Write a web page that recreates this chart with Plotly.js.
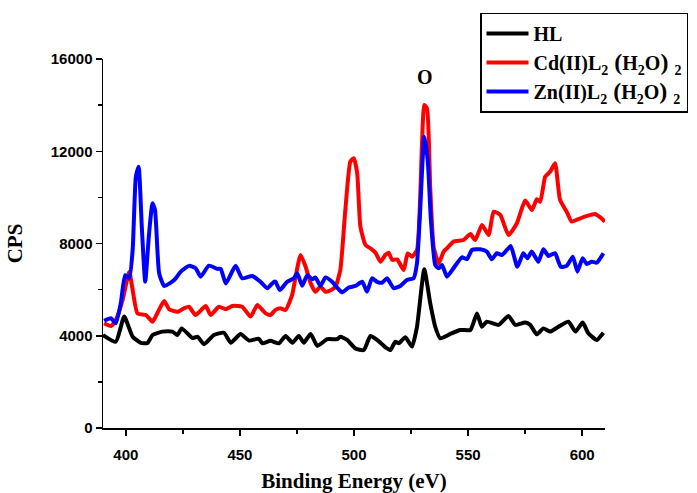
<!DOCTYPE html>
<html>
<head>
<meta charset="utf-8">
<script src="https://cdn.plot.ly/plotly-3.0.1.min.js"></script>
<style>html,body{margin:0;padding:0;background:#fff;}#chart{width:697px;height:493px;}</style>
</head>
<body>
<div id="chart"></div>
<script>
// HL
const hlX = [390,395.6,399.3,403,406.6,409.5,411.7,416,420.4,422.6,424.5,429.2,431.4,434.3,438.6,443,446,450.3,454,458.3,459.8,463.4,467.1,470,473,475.8,478,481,483.9,488.3,492.6,494,497,500.6,504.3,507.2,510.1,513.8,516,518.1,519.6,522.5,525.4,527.6,530.8,533.4,535.6,537.8,542.2,546.6,551,553.9,556,558.2,563.3,567.7,570.7,575,577.2,580.1,583,586,589.6,594,597,600.2,602.7,606.4,609.3];
const hlY = [4030,3740,4830,3960,3690,3690,4030,4180,4180,4030,4320,3900,3960,3630,4030,4130,3700,4080,3790,3870,3670,3780,3670,3990,3700,3990,3700,4080,3560,3850,3850,3960,3820,3450,3380,3990,3820,3500,3380,3740,3670,3930,3530,4390,6880,5410,4390,3890,4080,4250,4250,4970,4390,4610,4470,4860,4470,4570,4470,4060,4320,4180,4390,4610,4180,4570,4110,3820,4130];
// Cd(II)L2(H2O)2
const cdX = [390.5,393.5,395.6,398.6,401.5,403,405.1,408.8,411.7,413.9,416.8,419,422.6,425.5,427.7,430.6,435,437.2,440.8,443.8,446.7,451,454.7,457.6,461.3,463.4,465.6,467.8,470,472.9,474.4,476.6,478.8,481,483.1,485.3,487.5,490.4,491.9,494,496.2,498.4,499.9,501.4,502.8,505,507.2,509.4,511.6,513.7,515.2,516.7,518.9,521.8,523.5,525.4,527.6,529.8,530.8,532,533.4,534.9,537.1,539.3,540.7,543.6,548,551,553.1,556.1,559,561.2,564.1,567.7,571.4,575,578,580.1,581.6,583.8,586,588.1,590.3,593.2,595.4,598.3,601.9,605.6,607.8,610];
const cdY = [4540,4420,4680,5550,6780,5980,4970,4900,4610,5000,5510,5150,5040,5190,5260,4900,5290,4900,5260,5150,5290,5260,4830,5330,4970,4900,5120,5190,5120,5770,6560,7500,6990,6270,5910,6130,5910,6010,6130,6850,9450,11550,11700,11050,8730,7940,7790,7600,7210,7500,7600,7290,7310,6850,7570,7430,7720,12350,14010,13860,10460,7860,7140,7650,7790,8080,8150,8410,8150,8800,8370,9380,9240,8370,8880,9860,9450,9920,9810,10900,11120,11480,9890,9380,8950,9060,9190,9280,9140,8950];
// Zn(II)L2(H2O)2
const znX = [390.5,393.5,395.6,397.8,399.7,401.5,403,404.4,405.6,407,408.5,410.2,411.7,412.8,414.6,416.8,419.7,421.9,424.1,427.7,430.6,432.8,436.4,440.1,441.6,443.8,448.1,451,455.4,459,462,464.9,465.6,467.5,470.7,473.6,475.1,477.3,479.5,481.7,483.1,485.3,487.5,490.4,492.6,494.8,497.7,500.6,503.6,505.7,507.9,510.1,512.3,514.5,517.4,520.3,523.2,526.1,527.6,529,530.8,532.3,533.7,535.6,537.1,538.6,540.7,543.6,547.3,549.5,551.7,555.3,558.2,560.4,562.6,564.8,567,568.7,571.6,574.2,576,577.9,580.8,583,585.2,588.1,590.6,593.2,595.9,597.9,600.2,602,604.2,606.4,609.3];
const znY = [4650,4760,4540,5410,6630,6490,7720,10900,11330,8730,6340,8440,9740,9450,6710,6160,6300,6490,6780,7030,6930,6560,7040,6900,6900,6270,7030,6490,6590,6340,6060,6340,6340,5980,6340,6490,6710,6170,6630,6450,6530,6160,6530,6340,6090,5880,6090,6160,6340,5910,6490,6340,6300,6490,6060,6160,6420,6490,7140,9450,12630,11620,9020,7070,6930,7070,6560,6930,7400,7320,7720,7750,7650,7320,7580,7500,7720,7890,6990,7580,7360,7650,7210,7750,7460,7580,6990,7030,7430,6780,7360,7110,7210,7170,7580];

const lp = '<span style="font-size:24px"> (</span>';
const rp = '<span style="font-size:24px">) </span>';
const names = ['HL', 'Cd(II)L<sub>2</sub>' + lp + 'H<sub>2</sub>O' + rp + '<sub>2</sub>', 'Zn(II)L<sub>2</sub>' + lp + 'H<sub>2</sub>O' + rp + '<sub>2</sub>'];
const colors = ['#000000', '#ff0000', '#0000ff'];
const xs = [hlX, cdX, znX];
const ys = [hlY, cdY, znY];

const traces = xs.map((x, i) => ({
  x: x, y: ys[i], type: 'scatter', mode: 'lines', name: names[i],
  line: {color: colors[i], width: 4, shape: 'spline', smoothing: 0.5}
}));

const serifBold = {family: 'Liberation Serif, Times New Roman, serif', weight: 'bold', color: '#000'};
const sansBold = {family: 'Liberation Sans, Arial, sans-serif', weight: 'bold', color: '#000', size: 15};

const layout = {
  width: 697, height: 493,
  margin: {l: 103, r: 92, t: 59, b: 65, autoexpand: false},
  paper_bgcolor: '#fff', plot_bgcolor: '#fff',
  showlegend: true,
  legend: {
    x: 0.751, y: 1.126, xanchor: 'left', yanchor: 'top',
    bgcolor: '#fff', bordercolor: '#000', borderwidth: 1.5,
    font: Object.assign({size: 20}, serifBold),
    itemwidth: 42, tracegroupgap: 0
  },
  xaxis: {
    range: [390, 610], tickmode: 'linear', tick0: 400, dtick: 50,
    showline: true, linecolor: '#000', linewidth: 1.5, mirror: false,
    ticks: 'outside', ticklen: 6, tickwidth: 1.5, tickcolor: '#000',
    ticklabelstandoff: 6,
    minor: {tick0: 375, dtick: 25, ticks: 'outside', ticklen: 4, tickwidth: 1.5, tickcolor: '#000'},
    showgrid: false, zeroline: false,
    tickfont: sansBold,
    title: {text: 'Binding Energy (eV)', font: Object.assign({size: 21}, serifBold), standoff: 18}
  },
  yaxis: {
    range: [0, 16000], tickmode: 'linear', tick0: 0, dtick: 4000, tickformat: 'd',
    showline: true, linecolor: '#000', linewidth: 1.5, mirror: false,
    ticks: 'outside', ticklen: 6, tickwidth: 1.5, tickcolor: '#000',
    minor: {tick0: 0, dtick: 2000, ticks: 'outside', ticklen: 4, tickwidth: 1.5, tickcolor: '#000'},
    showgrid: false, zeroline: false,
    tickfont: sansBold,
    title: {text: 'CPS', font: Object.assign({size: 21}, serifBold), standoff: 22}
  },
  annotations: [{
    x: 531.2, y: 15220, xref: 'x', yref: 'y', text: 'O', showarrow: false,
    font: Object.assign({size: 20}, serifBold)
  }]
};

Plotly.newPlot('chart', traces, layout, {displayModeBar: false, staticPlot: true});
</script>
</body>
</html>
